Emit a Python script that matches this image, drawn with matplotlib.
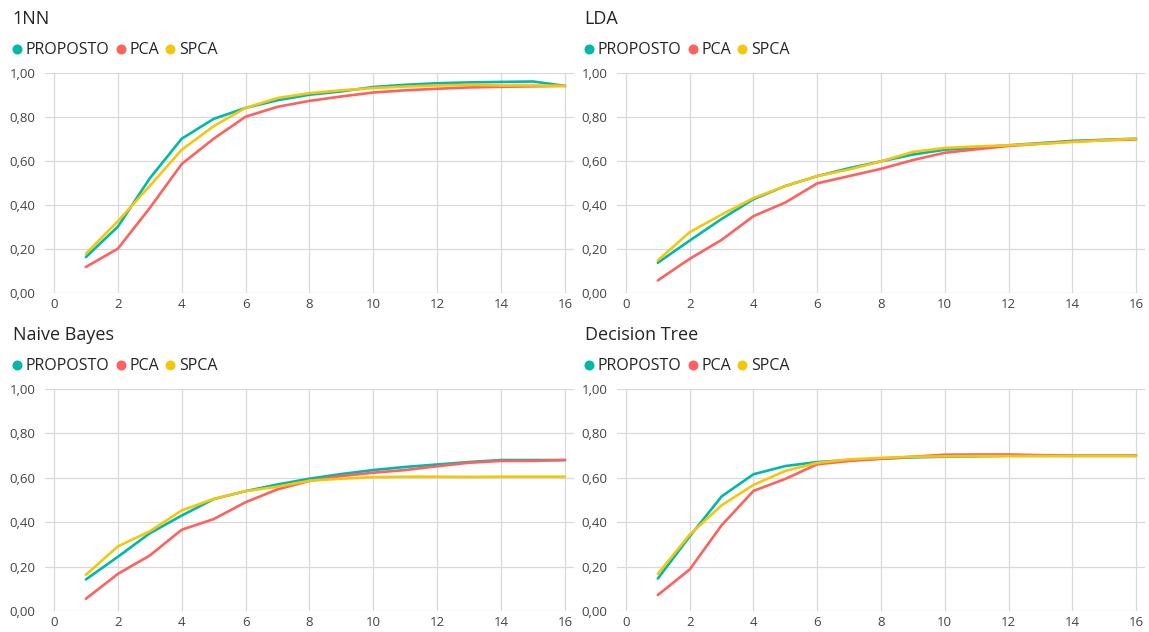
import matplotlib
matplotlib.use("Agg")
import matplotlib.pyplot as plt
from matplotlib.lines import Line2D
from matplotlib.ticker import FuncFormatter, MultipleLocator
import numpy as np

plt.rcParams['font.family'] = ['Open Sans', 'DejaVu Sans']

# Data: number of components vs. accuracy
components = np.arange(1, 17)
methods = ['PROPOSTO', 'PCA', 'SPCA']
colors = ['#01B8AA', '#FD625E', '#F2C80F']

knn_proposto = [0.162, 0.30, 0.52, 0.70, 0.79, 0.84, 0.875, 0.90, 0.915, 0.935, 0.945, 0.952, 0.956, 0.958, 0.96, 0.94]
knn_pca = [0.117, 0.20, 0.385, 0.585, 0.70, 0.80, 0.845, 0.872, 0.892, 0.91, 0.92, 0.927, 0.933, 0.936, 0.938, 0.94]
knn_spca = [0.177, 0.325, 0.485, 0.65, 0.757, 0.84, 0.885, 0.907, 0.92, 0.93, 0.937, 0.942, 0.945, 0.942, 0.942, 0.94]

lda_proposto = [0.136, 0.237, 0.335, 0.425, 0.485, 0.53, 0.566, 0.597, 0.628, 0.65, 0.66, 0.67, 0.68, 0.69, 0.695, 0.70]
lda_pca = [0.056, 0.154, 0.24, 0.348, 0.41, 0.497, 0.53, 0.563, 0.603, 0.636, 0.652, 0.667, 0.677, 0.687, 0.693, 0.697]
lda_spca = [0.147, 0.275, 0.355, 0.43, 0.485, 0.53, 0.56, 0.597, 0.64, 0.658, 0.665, 0.67, 0.677, 0.685, 0.693, 0.70]

nb_proposto = [0.142, 0.244, 0.35, 0.43, 0.504, 0.54, 0.57, 0.596, 0.617, 0.635, 0.649, 0.66, 0.671, 0.68, 0.68, 0.68]
nb_pca = [0.055, 0.167, 0.25, 0.366, 0.414, 0.49, 0.548, 0.586, 0.608, 0.623, 0.635, 0.652, 0.668, 0.676, 0.676, 0.68]
nb_spca = [0.163, 0.291, 0.359, 0.453, 0.505, 0.54, 0.56, 0.587, 0.596, 0.603, 0.605, 0.605, 0.604, 0.605, 0.605, 0.605]

dt_proposto = [0.146, 0.336, 0.516, 0.616, 0.653, 0.671, 0.68, 0.686, 0.692, 0.695, 0.697, 0.699, 0.699, 0.699, 0.699, 0.699]
dt_pca = [0.072, 0.187, 0.386, 0.541, 0.595, 0.661, 0.676, 0.686, 0.695, 0.704, 0.705, 0.705, 0.702, 0.70, 0.70, 0.70]
dt_spca = [0.167, 0.344, 0.476, 0.568, 0.631, 0.667, 0.683, 0.69, 0.695, 0.697, 0.698, 0.698, 0.698, 0.698, 0.698, 0.698]

panels = [
    ('1NN', [knn_proposto, knn_pca, knn_spca]),
    ('LDA', [lda_proposto, lda_pca, lda_spca]),
    ('Naive Bayes', [nb_proposto, nb_pca, nb_spca]),
    ('Decision Tree', [dt_proposto, dt_pca, dt_spca]),
]

W, H = 1149, 632
fig = plt.figure(figsize=(W / 100, H / 100), dpi=100)

# axes boxes in pixels: left, top, right, bottom
boxes = [(45, 72.7, 574, 292.7), (617, 72.7, 1145, 292.7),
         (45, 389, 574, 611), (617, 389, 1145, 611)]

comma_fmt = FuncFormatter(lambda v, p: f'{v:.2f}'.replace('.', ','))

for (title, series), (l, t, r, b) in zip(panels, boxes):
    ax = fig.add_axes([l / W, 1 - b / H, (r - l) / W, (b - t) / H])
    for vals, name, c in zip(series, methods, colors):
        ax.plot(components, vals, color=c, lw=1.9, label=name, solid_capstyle='round', zorder=3)
    ax.set_xlim(-0.28, 16.28)
    ax.set_ylim(0, 1)
    ax.xaxis.set_major_locator(MultipleLocator(2))
    ax.yaxis.set_major_locator(MultipleLocator(0.2))
    ax.yaxis.set_major_formatter(comma_fmt)
    ax.xaxis.set_major_formatter(FuncFormatter(lambda v, p: f'{int(round(v))}'))
    ax.grid(True, color='#D9D9D9', lw=0.9)
    ax.set_axisbelow(True)
    for s in ax.spines.values():
        s.set_visible(False)
    ax.tick_params(length=0, labelsize=9.5, colors='#444444')
    ax.tick_params(axis='y', pad=7)
    ax.tick_params(axis='x', pad=3.5)

    ax.annotate(title, xy=(0, 1), xycoords='axes fraction', xytext=(-23.3, 35.3),
                textcoords='offset points', fontsize=13, color='#252423', va='baseline', ha='left')

    handles = [Line2D([], [], marker='o', ls='', markersize=6.2, color=c) for c in colors]
    h_px = b - t
    ax.legend(handles, methods, loc='center left', ncol=3, frameon=False,
              bbox_to_anchor=((12 - 45) / (r - l), 1 + 22.5 / h_px), borderaxespad=0, borderpad=0,
              handlelength=0.6, handletextpad=0.25, columnspacing=0.4,
              prop={'size': 11.5}, labelcolor='#252423')

fig.savefig('out.png', dpi=100, facecolor='white')
